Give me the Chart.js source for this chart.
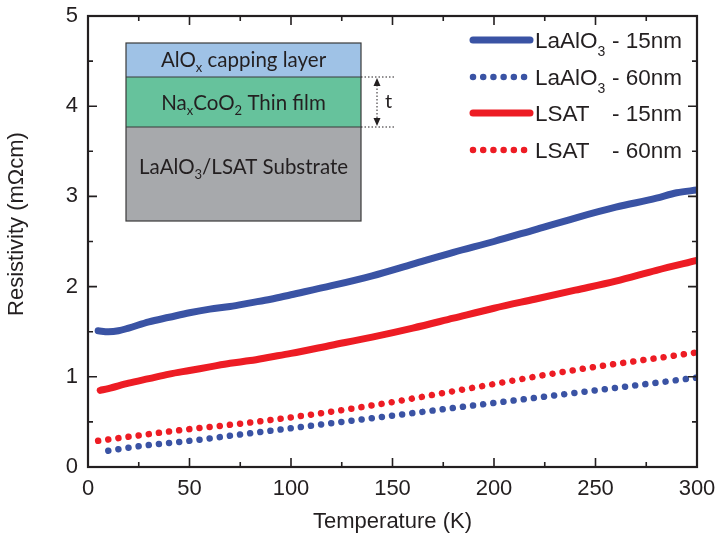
<!DOCTYPE html>
<html>
<head>
<meta charset="utf-8">
<script src="https://cdn.jsdelivr.net/npm/chart.js@4.4.0/dist/chart.umd.min.js"></script>
<style>
  html, body { margin: 0; padding: 0; background: #fff; }
</style>
</head>
<body>
<canvas id="rhoChart" width="716" height="543"></canvas>
<script>
// LaAlO3 substrate, 15 nm film
const tLa15 = [5, 10, 15, 20, 30, 40, 50, 60, 70, 80, 90, 100, 120, 140, 160, 180, 200, 220, 240, 260, 280, 290, 300];
const rhoLa15 = [1.51, 1.50, 1.51, 1.54, 1.61, 1.66, 1.71, 1.75, 1.78, 1.82, 1.86, 1.91, 2.01, 2.12, 2.25, 2.38, 2.50, 2.63, 2.76, 2.88, 2.98, 3.04, 3.07];
// LaAlO3 substrate, 60 nm film
const tLa60 = [10, 25, 50, 75, 100, 125, 150, 175, 200, 225, 250, 275, 300];
const rhoLa60 = [0.18, 0.23, 0.29, 0.36, 0.43, 0.50, 0.57, 0.64, 0.71, 0.78, 0.85, 0.92, 0.99];
// LSAT substrate, 15 nm film
const tLs15 = [6, 10, 20, 30, 40, 50, 60, 70, 80, 90, 100, 120, 140, 160, 180, 200, 220, 240, 260, 280, 300];
const rhoLs15 = [0.85, 0.87, 0.93, 0.98, 1.03, 1.07, 1.11, 1.15, 1.18, 1.22, 1.26, 1.35, 1.44, 1.54, 1.65, 1.76, 1.86, 1.96, 2.06, 2.18, 2.29];
// LSAT substrate, 60 nm film
const tLs60 = [5, 25, 50, 75, 100, 125, 150, 175, 200, 225, 250, 275, 300];
const rhoLs60 = [0.29, 0.35, 0.42, 0.48, 0.55, 0.63, 0.72, 0.82, 0.92, 1.02, 1.11, 1.19, 1.27];

const xTicks = [0, 50, 100, 150, 200, 250, 300];
const yTicks = [0, 1, 2, 3, 4, 5];

const blue = '#3a53a4';
const red = '#ed1c24';
const ink = '#231f20';

function pts(xs, ys) {
  return xs.map((v, i) => ({ x: v, y: ys[i] }));
}

// legend text pieces, sub = subscript
const legendText = [
  [[{ t: 'LaAlO' }, { t: '3', sub: true }], '- 15nm'],
  [[{ t: 'LaAlO' }, { t: '3', sub: true }], '- 60nm'],
  [[{ t: 'LSAT' }], '- 15nm'],
  [[{ t: 'LSAT' }], '- 60nm']
];

function runsWidth(ctx, runs, size, subSize, family) {
  let w = 0;
  runs.forEach(r => {
    ctx.font = (r.sub ? subSize : size) + 'px ' + family;
    w += ctx.measureText(r.t).width;
  });
  return w;
}

function drawRuns(ctx, runs, x, y, size, subSize, family, subDrop) {
  ctx.textAlign = 'left';
  ctx.textBaseline = 'alphabetic';
  runs.forEach(r => {
    ctx.font = (r.sub ? subSize : size) + 'px ' + family;
    ctx.fillText(r.t, x, r.sub ? y + subDrop : y);
    x += ctx.measureText(r.t).width;
  });
}

const framePlugin = {
  id: 'frame',
  afterDatasetsDraw(chart) {
    const { ctx, chartArea: a, scales: { x, y } } = chart;
    ctx.save();
    ctx.strokeStyle = ink;
    ctx.lineWidth = 1.6;
    x.ticks.forEach(tk => {
      if (tk.value <= 0 || tk.value >= 300) return;
      const px = x.getPixelForValue(tk.value);
      const len = xTicks.includes(tk.value) ? 9 : 5;
      ctx.beginPath();
      ctx.moveTo(px, a.bottom); ctx.lineTo(px, a.bottom - len);
      ctx.moveTo(px, a.top); ctx.lineTo(px, a.top + len);
      ctx.stroke();
    });
    y.ticks.forEach(tk => {
      if (tk.value <= 0 || tk.value >= 5) return;
      const py = y.getPixelForValue(tk.value);
      const len = yTicks.includes(tk.value) ? 9 : 5;
      ctx.beginPath();
      ctx.moveTo(a.left, py); ctx.lineTo(a.left + len, py);
      ctx.moveTo(a.right, py); ctx.lineTo(a.right - len, py);
      ctx.stroke();
    });
    ctx.lineWidth = 2.2;
    ctx.strokeRect(a.left, a.top, a.right - a.left, a.bottom - a.top);

    // y axis title
    ctx.translate(17, 224);
    ctx.rotate(-Math.PI / 2);
    ctx.fillStyle = ink;
    ctx.font = '22px "Liberation Sans"';
    ctx.textAlign = 'center';
    ctx.textBaseline = 'middle';
    ctx.fillText('Resistivity (m\u03A9cm)', 0, 0);
    ctx.restore();
  }
};

const legendPlugin = {
  id: 'sideLegend',
  afterDraw(chart) {
    const ctx = chart.ctx;
    const rows = [40, 77, 113, 150];
    ctx.save();
    chart.data.datasets.forEach((ds, i) => {
      const yy = rows[i];
      ctx.strokeStyle = ds.borderColor;
      ctx.lineWidth = ds.borderWidth;
      ctx.lineCap = 'round';
      ctx.setLineDash(ds.borderDash || []);
      ctx.beginPath();
      ctx.moveTo(473, yy);
      ctx.lineTo(530, yy);
      ctx.stroke();
      ctx.setLineDash([]);
      ctx.fillStyle = ink;
      drawRuns(ctx, legendText[i][0], 535, yy + 8, 22.5, 14, '"Liberation Sans"', 8);
      ctx.font = '22.5px "Liberation Sans"';
      ctx.fillText(legendText[i][1], 612, yy + 8);
    });
    ctx.restore();
  }
};

const insetPlugin = {
  id: 'inset',
  afterDraw(chart) {
    const ctx = chart.ctx;
    const L = 126, R = 361, T = 43, B1 = 77, B2 = 127, B3 = 221;
    const fam = 'Lato';
    ctx.save();
    ctx.fillStyle = '#9fc2e6'; ctx.fillRect(L, T, R - L, B1 - T);
    ctx.fillStyle = '#66c29c'; ctx.fillRect(L, B1, R - L, B2 - B1);
    ctx.fillStyle = '#a7a9ac'; ctx.fillRect(L, B2, R - L, B3 - B2);
    ctx.strokeStyle = '#3a3a3a';
    ctx.lineWidth = 1.2;
    ctx.strokeRect(L, T, R - L, B3 - T);
    ctx.beginPath();
    ctx.moveTo(L, B1); ctx.lineTo(R, B1);
    ctx.moveTo(L, B2); ctx.lineTo(R, B2);
    ctx.stroke();

    // dotted guides and thickness arrow
    ctx.strokeStyle = ink;
    ctx.lineWidth = 1;
    ctx.setLineDash([1.5, 2]);
    ctx.beginPath();
    ctx.moveTo(R, B1); ctx.lineTo(396, B1);
    ctx.moveTo(R, B2); ctx.lineTo(396, B2);
    ctx.moveTo(377, B1 + 8); ctx.lineTo(377, B2 - 8);
    ctx.stroke();
    ctx.setLineDash([]);
    ctx.fillStyle = ink;
    ctx.beginPath();
    ctx.moveTo(377, B1 + 1); ctx.lineTo(373.5, B1 + 9); ctx.lineTo(380.5, B1 + 9); ctx.closePath();
    ctx.moveTo(377, B2 - 1); ctx.lineTo(373.5, B2 - 9); ctx.lineTo(380.5, B2 - 9); ctx.closePath();
    ctx.fill();
    ctx.font = '20px ' + fam;
    ctx.textAlign = 'left';
    ctx.textBaseline = 'alphabetic';
    ctx.fillText('t', 385, 108);

    const labels = [
      { y: 67, runs: [{ t: 'AlO' }, { t: 'x', sub: true }, { t: ' capping layer' }] },
      { y: 110, runs: [{ t: 'Na' }, { t: 'x', sub: true }, { t: 'CoO' }, { t: '2', sub: true }, { t: ' Thin film' }] },
      { y: 174, runs: [{ t: 'LaAlO' }, { t: '3', sub: true }, { t: '/LSAT Substrate' }] }
    ];
    ctx.fillStyle = '#231f20';
    labels.forEach(lb => {
      const w = runsWidth(ctx, lb.runs, 20.5, 13, fam);
      drawRuns(ctx, lb.runs, (L + R) / 2 - w / 2, lb.y, 20.5, 13, fam, 5);
    });
    ctx.restore();
  }
};

new Chart(document.getElementById('rhoChart'), {
  type: 'line',
  data: {
    datasets: [
      {
        label: 'LaAlO3 - 15nm',
        data: pts(tLa15, rhoLa15),
        borderColor: blue,
        borderWidth: 7
      },
      {
        label: 'LaAlO3 - 60nm',
        data: pts(tLa60, rhoLa60),
        borderColor: blue,
        borderWidth: 6.5,
        borderDash: [0.01, 10.2]
      },
      {
        label: 'LSAT - 15nm',
        data: pts(tLs15, rhoLs15),
        borderColor: red,
        borderWidth: 7
      },
      {
        label: 'LSAT - 60nm',
        data: pts(tLs60, rhoLs60),
        borderColor: red,
        borderWidth: 6.5,
        borderDash: [0.01, 10.2]
      }
    ]
  },
  options: {
    responsive: false,
    animation: false,
    layout: { padding: { left: 0, right: 19, top: 16, bottom: 0 } },
    elements: {
      point: { radius: 0 },
      line: { borderCapStyle: 'round', borderJoinStyle: 'round', cubicInterpolationMode: 'monotone' }
    },
    clip: { left: 6, top: 6, right: 0, bottom: 6 },
    plugins: {
      legend: { display: false },
      tooltip: { enabled: false }
    },
    scales: {
      x: {
        type: 'linear',
        min: 0,
        max: 300,
        grid: { display: false, drawTicks: false },
        border: { display: false },
        ticks: {
          stepSize: 25,
          padding: 9,
          maxRotation: 0,
          color: ink,
          font: { family: 'Liberation Sans', size: 22 },
          callback: v => (xTicks.includes(v) ? String(v) : '')
        },
        title: {
          display: true,
          text: 'Temperature (K)',
          color: ink,
          font: { family: 'Liberation Sans', size: 22 },
          padding: { top: 0, bottom: 8 }
        },
        afterFit: s => { s.height = 76; s.paddingLeft = 0; s.paddingRight = 0; }
      },
      y: {
        type: 'linear',
        min: 0,
        max: 5,
        grid: { display: false, drawTicks: false },
        border: { display: false },
        ticks: {
          stepSize: 0.5,
          padding: 10,
          color: ink,
          font: { family: 'Liberation Sans', size: 22 },
          callback: v => (yTicks.includes(v) ? String(v) : '')
        },
        afterFit: s => { s.width = 88; s.paddingTop = 0; s.paddingBottom = 0; }
      }
    }
  },
  plugins: [framePlugin, legendPlugin, insetPlugin]
});
</script>
</body>
</html>
